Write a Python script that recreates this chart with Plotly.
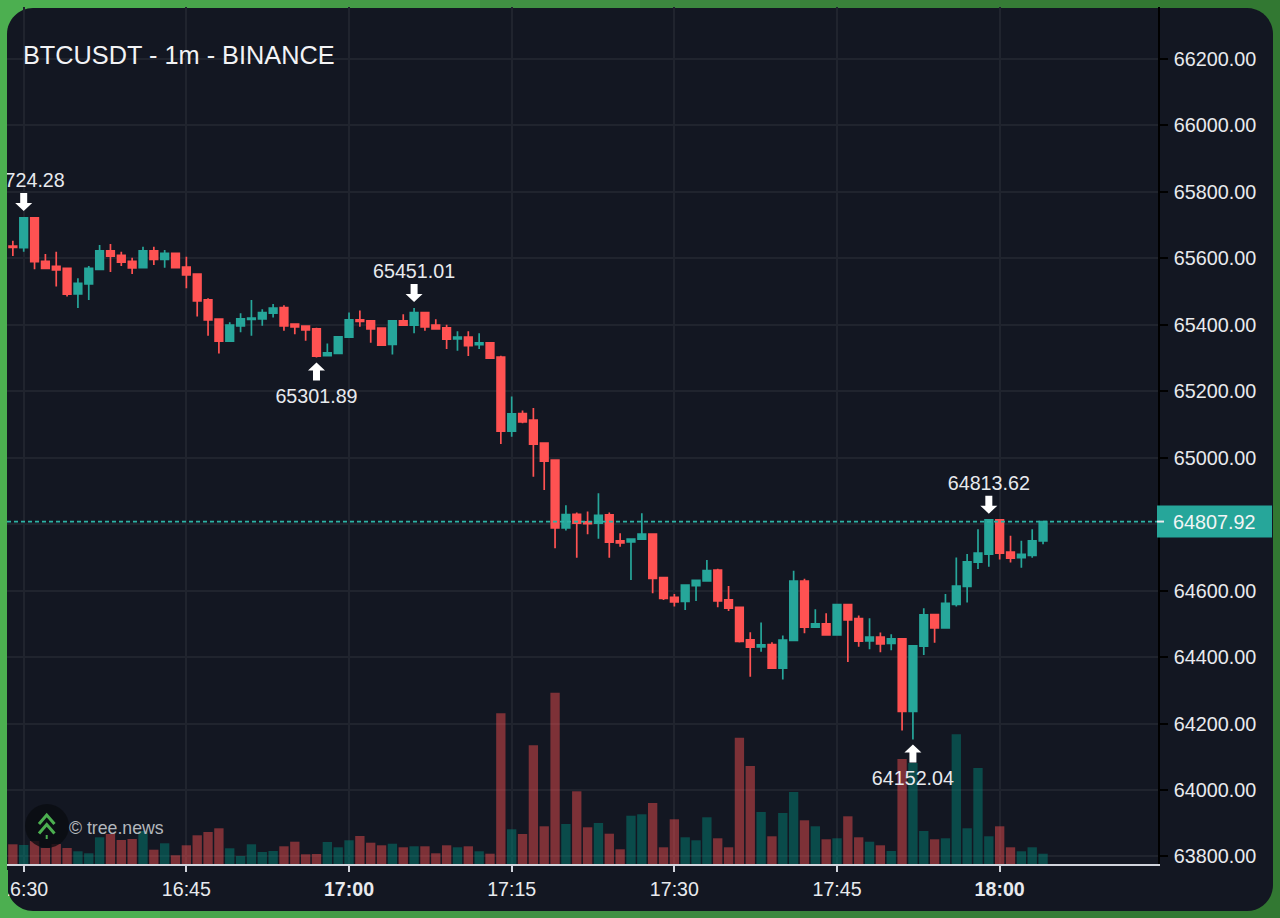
import pandas as pd
import plotly.graph_objects as go

day = "2024-08-20"
times = pd.date_range(day + " 16:29", periods=96, freq="min")

opens = [65637,65632,65722,65591,65576,65570,65493,65523,65567,65623,
         65609,65591,65572,65623,65597,65615,65574,65553,65475,65417,
         65351,65397,65416,65418,65435,65452,65402,65396,65388,65307,
         65314,65363,65415,65412,65390,65341,65412,65399,65437,65399,
         65391,65358,65363,65340,65346,65303,65080,65133,65113,65044,
         64993,64789,64830,64807,64803,64828,64750,64747,64755,64770,
         64639,64580,64568,64615,64629,64662,64572,64550,64452,64431,
         64438,64367,64450,64629,64490,64500,64467,64558,64516,64449,
         64460,64441,64455,64237,64433,64528,64488,64559,64613,64686,
         64710,64813,64716,64699,64706,64750]
highs = [65653,65724.28,65723,65613,65620,65571,65540,65577,65640,65643,
         65620,65602,65635,65635,65625,65616,65605,65555,65480,65418,
         65408,65435,65475,65447,65463,65459,65403,65397,65391,65344,
         65365,65437,65443,65413,65391,65413,65432,65451.01,65438,65417,
         65400,65381,65381,65375,65347,65307,65184,65142,65150,65045,
         64994,64857,64835,64838,64893,64835,64773,64756,64833,64771,
         64640,64590,64618,64632,64692,64666,64614,64551,64475,64504,
         64445,64465,64660,64636,64544,64532,64559,64559,64525,64517,
         64474,64469,64456,64435,64547,64529,64590,64700,64710,64785,
         64813.62,64813.62,64765,64750,64785,64809]
lows = [65607,65620,65567,65568,65515,65485,65451,65475,65566,65559,
        65577,65553,65571,65580,65572,65571,65510,65425,65367,65314,
        65350,65378,65367,65397,65422,65382,65372,65352,65301.89,65306,
        65313,65362,65394,65346,65336,65311,65398,65375,65382,65387,
        65327,65322,65306,65327,65299,65041,65063,65104,64943,64903,
        64728,64781,64699,64770,64756,64699,64732,64632,64754,64592,
        64572,64552,64542,64569,64628,64550,64539,64444,64341,64416,
        64366,64333,64449,64472,64489,64464,64464,64385,64431,64424,
        64415,64421,64179,64152.04,64406,64443,64487,64552,64564,64665,
        64672,64694,64685,64669,64699,64740]
closes = [65633,65722,65590,65570,65565,65492,65525,65570,65623,65607,
          65589,65571,65623,65597,65615,65572,65550,65472,65415,65351,
          65399,65418,65420,65437,65450,65397,65394,65385,65306,65316,
          65364,65415,65410,65388,65339,65412,65399,65437,65394,65388,
          65357,65363,65337,65346,65300,65080,65132,65108,65041,64990,
          64789,64829,64803,64802,64827,64746,64744,64755,64770,64637,
          64577,64566,64617,64631,64660,64569,64547,64447,64430,64437,
          64367,64451,64629,64490,64500,64467,64558,64512,64448,64460,
          64440,64455,64237,64434,64527,64488,64562,64614,64687,64713,
          64813,64713,64698,64709,64750,64807.92]
volumes = [19.7,19,23,16,20,16,12.7,10.7,26.7,30,
           24,25,33,14.3,20.7,8.7,18.7,28.7,32,35.7,
           15.7,8,19.7,12,13,17.7,22.3,9.7,10,22,
           16.7,23.7,28,21.3,18.7,20.3,16.7,17.7,17.7,10.7,
           18.7,16.7,17.7,12.7,10.3,150.7,34.7,30,118.7,37.7,
           171.3,40,72.7,36.7,41,30.3,14.7,48.3,49.7,61,
           16.7,44.7,26.7,23.7,46.7,25.7,16.7,126.3,98,52,
           27.7,51,72,43.7,37.7,24.7,25.7,47.7,26.7,22.3,
           18.7,13,105,101,33,24.7,25.7,129.7,35.7,96,
           27.7,37.7,16.7,12.7,16.7,10.3]

price_ticks = [63800,64000,64200,64400,64600,64800,65000,65200,65400,65600,65800,66000,66200]
time_ticks = ["16:30","16:45","17:00","17:15","17:30","17:45","18:00"]
time_labels = ["16:30","16:45","<b>17:00</b>","17:15","17:30","17:45","<b>18:00</b>"]

# candles that carry a high / low marker
high_marks = [1, 37, 90]
low_marks = [28, 83]

last_price = closes[-1]

GREEN = "#26A69A"
RED = "#FF5252"
TEXT = "#E8EAEE"
FONT = "Liberation Sans"

# plot box in pixels on the 1280x918 page
LEFT, RIGHT, TOP, BOTTOM = 7, 1158, 7, 864


def px(x):
    return (x - LEFT) / (RIGHT - LEFT)


def py(y):
    return (BOTTOM - y) / (BOTTOM - TOP)


def card_path(x0, y0, x1, y1, r):
    k = r * 0.45
    pts = [
        f"M{px(x0 + r)},{py(y0)}", f"L{px(x1 - r)},{py(y0)}",
        f"C{px(x1 - k)},{py(y0)} {px(x1)},{py(y0 + k)} {px(x1)},{py(y0 + r)}",
        f"L{px(x1)},{py(y1 - r)}",
        f"C{px(x1)},{py(y1 - k)} {px(x1 - k)},{py(y1)} {px(x1 - r)},{py(y1)}",
        f"L{px(x0 + r)},{py(y1)}",
        f"C{px(x0 + k)},{py(y1)} {px(x0)},{py(y1 - k)} {px(x0)},{py(y1 - r)}",
        f"L{px(x0)},{py(y0 + r)}",
        f"C{px(x0)},{py(y0 + k)} {px(x0 + k)},{py(y0)} {px(x0 + r)},{py(y0)}Z",
    ]
    return "".join(pts)


shapes = []

# green frame, bright on the left and darker to the right
frame_stops = [(0, 160, "#4CAF50"), (160, 320, "#48A54B"), (320, 480, "#449A46"),
               (480, 640, "#409043"), (640, 800, "#3C883F"), (800, 960, "#39823A"),
               (960, 1120, "#367C36"), (1120, 1280, "#327832")]
for a, b, c in frame_stops:
    shapes.append(dict(type="rect", xref="paper", yref="paper", layer="below",
                       x0=px(a), x1=px(b), y0=py(918), y1=py(0),
                       fillcolor=c, line_width=0))
shapes.append(dict(type="path", xref="paper", yref="paper", layer="below",
                   path=card_path(7, 8, 1273, 911, 26),
                   fillcolor="#131722", line_width=0))
# the card edge cuts the first time label
shapes.append(dict(type="rect", xref="paper", yref="paper", layer="above",
                   x0=px(0), x1=px(8), y0=py(900), y1=py(870),
                   fillcolor="#4CAF50", line_width=0))

# last price line and box
shapes.append(dict(type="line", xref="paper", yref="y2", layer="above",
                   x0=0, x1=1, y0=last_price, y1=last_price,
                   line=dict(color="#2DB3A5", width=1.8, dash="4px,3px")))
shapes.append(dict(type="rect", xref="paper", yref="y2", layer="above",
                   ysizemode="pixel", yanchor=last_price,
                   x0=px(1157), x1=px(1272), y0=-16, y1=16,
                   fillcolor=GREEN, line_width=0))
shapes.append(dict(type="rect", xref="paper", yref="y2", layer="above",
                   ysizemode="pixel", yanchor=last_price,
                   x0=px(1157), x1=px(1164), y0=-1, y1=1,
                   fillcolor="#E8EAEE", line_width=0))

# arrows above the highs and below the lows
ARROW_DOWN = "M0,6L-8.5,14L-3.5,14L-3.5,24L3.5,24L3.5,14L8.5,14Z"
ARROW_UP = "M0,-5L-8.5,-13L-3.5,-13L-3.5,-23L3.5,-23L3.5,-13L8.5,-13Z"
for i in high_marks:
    shapes.append(dict(type="path", xref="x", yref="y2", layer="above",
                       xsizemode="pixel", ysizemode="pixel",
                       xanchor=times[i], yanchor=highs[i], path=ARROW_DOWN,
                       fillcolor="white", line_width=0))
for i in low_marks:
    shapes.append(dict(type="path", xref="x", yref="y2", layer="above",
                       xsizemode="pixel", ysizemode="pixel",
                       xanchor=times[i], yanchor=lows[i], path=ARROW_UP,
                       fillcolor="white", line_width=0))

# tree.news logo
shapes.append(dict(type="circle", xref="paper", yref="paper", layer="above",
                   x0=px(25), x1=px(69), y0=py(848), y1=py(804),
                   fillcolor="rgba(10,13,17,0.8)", line_width=0))
for top in [815, 824.5]:
    shapes.append(dict(type="path", xref="paper", yref="paper", layer="above",
                       path=f"M{px(39)},{py(top + 9)}L{px(46.7)},{py(top)}L{px(54.5)},{py(top + 9)}",
                       line=dict(color="#4CAF50", width=3)))
shapes.append(dict(type="rect", xref="paper", yref="paper", layer="above",
                   x0=px(45.7), x1=px(47.7), y0=py(839), y1=py(835),
                   fillcolor="#4CAF50", line_width=0))

fig = go.Figure()

vol_colors = ["rgba(0,140,125,0.45)" if c >= o else "rgba(255,82,82,0.45)"
              for o, c in zip(opens, closes)]
fig.add_trace(go.Bar(x=times, y=volumes, marker=dict(color=vol_colors, line_width=0),
                     yaxis="y", hoverinfo="skip"))

fig.add_trace(go.Candlestick(
    x=times, open=opens, high=highs, low=lows, close=closes, yaxis="y2",
    whiskerwidth=0,
    increasing=dict(line=dict(color=GREEN, width=1.7), fillcolor=GREEN),
    decreasing=dict(line=dict(color=RED, width=1.7), fillcolor=RED),
))

# value labels, kept in the trace layer so the first one clips at the plot edge
mark_x = [times[i] for i in high_marks] + [times[i] for i in low_marks]
mark_y = [highs[i] + 105 for i in high_marks] + [lows[i] - 122 for i in low_marks]
mark_text = [f"{highs[i]:.2f}" for i in high_marks] + [f"{lows[i]:.2f}" for i in low_marks]
fig.add_trace(go.Scatter(x=mark_x, y=mark_y, text=mark_text, mode="text", yaxis="y2",
                         textposition="middle center", cliponaxis=True,
                         textfont=dict(family=FONT, size=19.7, color=TEXT),
                         hoverinfo="skip"))

annotations = [
    dict(xref="paper", yref="paper", x=px(21), y=py(55), xanchor="left", yanchor="middle",
         text="BTCUSDT - 1m - BINANCE", showarrow=False,
         font=dict(family=FONT, size=25.3, color="#F2F3F5")),
    dict(xref="paper", yref="paper", x=px(67), y=py(828), xanchor="left", yanchor="middle",
         text="© tree.news", showarrow=False,
         font=dict(family=FONT, size=17.7, color="#B4B7BD")),
    dict(xref="paper", yref="y2", x=px(1214.5), y=last_price, xanchor="center", yanchor="middle",
         text=f"{last_price:.2f}", showarrow=False,
         font=dict(family=FONT, size=19.8, color="#F2F5F5")),
]

fig.update_layout(
    width=1280, height=918,
    margin=dict(l=LEFT, r=1280 - RIGHT, t=TOP, b=918 - BOTTOM, autoexpand=False),
    paper_bgcolor="#3F8F42", plot_bgcolor="rgba(0,0,0,0)",
    showlegend=False, bargap=0.14, boxgap=0.3, boxgroupgap=0,
    font=dict(family=FONT, size=19.8, color=TEXT),
    shapes=shapes, annotations=annotations,
    xaxis=dict(
        type="date", rangeslider_visible=False,
        range=[day + " 16:28:27.6", day + " 18:14:36"],
        tickmode="array", tickvals=[day + " " + t for t in time_ticks], ticktext=time_labels,
        ticklabeloverflow="allow",
        showgrid=True, gridcolor="#20242E", gridwidth=1.6, zeroline=False,
        showline=True, linecolor="#D1D4DC", linewidth=2,
        ticks="outside", ticklen=6, tickwidth=2, tickcolor="#D1D4DC",
        tickfont=dict(family=FONT, size=19.6, color=TEXT),
    ),
    yaxis=dict(range=[0, BOTTOM - TOP], visible=False, showgrid=False, zeroline=False),
    yaxis2=dict(
        overlaying="y", side="right", anchor="x",
        range=[63777.4, 66356.5],
        tickmode="array", tickvals=price_ticks, ticktext=[f"{p:.2f}" for p in price_ticks],
        ticklabelstandoff=2,
        showgrid=True, gridcolor="#20242E", gridwidth=1.6, zeroline=False,
        showline=True, linecolor="#000000", linewidth=1.5,
        ticks="outside", ticklen=8, tickwidth=1.5, tickcolor="#000000",
        tickfont=dict(family=FONT, size=19.8, color=TEXT),
    ),
)

fig.write_html("out.html", config=dict(displayModeBar=False),
               post_script="document.body.style.margin='0';document.body.style.overflow='hidden';")
